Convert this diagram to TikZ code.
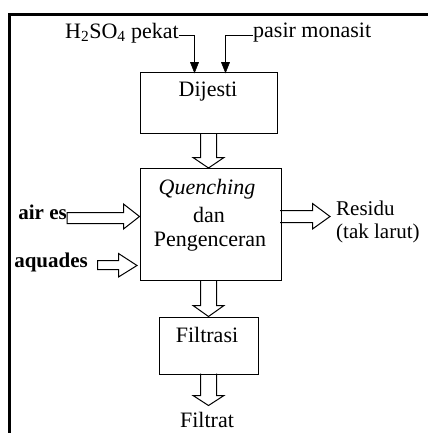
\documentclass[tikz,border=0pt]{standalone}
\usepackage{fontspec}
\setmainfont{Liberation Serif}
\begin{document}
\begin{tikzpicture}[x=1pt,y=-1pt,
  proc/.style={draw,line width=1pt,inner sep=0pt,anchor=north west},
  lbl/.style={inner sep=0pt,font=\fontsize{22}{26}\selectfont},
  slbl/.style={inner sep=0pt,font=\fontsize{21}{25}\selectfont},
  blbl/.style={inner sep=0pt,font=\fontsize{21}{25}\selectfont\bfseries},
  hollow/.style={draw=black,line width=1pt,line join=miter},
  feed/.style={draw=black,line width=1pt},
  headfill/.style={fill=black,draw=black,line width=0.6pt,line join=miter}]
\useasboundingbox (0,0) rectangle (428,433);
% frame
\draw[line width=3pt] (9.5,433) -- (9.5,14.5) -- (428,14.5);
% boxes
\node[proc,minimum width=137pt,minimum height=60pt] (dij) at (139.5,72.5) {};
\node[lbl] (dijt) at (208,92) {Dijesti};
\node[proc,minimum width=141pt,minimum height=112pt] (que) at (139.5,167.5) {};
\node[lbl] (q1) at (207,189) {\itshape Quenching};
\node[lbl] (q2) at (209,215) {dan};
\node[lbl] (q3) at (210,242) {Pengenceran};
\node[proc,minimum width=99pt,minimum height=57pt] (fil) at (158.5,316.5) {};
\node[lbl] (filt) at (207,335) {Filtrasi};
% labels
\node[lbl,anchor=east] (h2) at (179,33) {H\textsubscript{2}SO\textsubscript{4} pekat};
\node[lbl,anchor=west] (pm) at (253,33) {pasir monasit};
\node[blbl,anchor=east] (air) at (67,212) {air es};
\node[blbl,anchor=east] (aq) at (88,262) {aquades};
\node[slbl,anchor=west] (res) at (336,208) {Residu};
\node[slbl,anchor=west] (tak) at (336,233) {(tak larut)};
\node[lbl] (ftr) at (207,420) {Filtrat};
% feed lines with filled tips
\coordinate (d1) at (194.5,72.5);
\coordinate (d1l) at (190.5,62.5);
\coordinate (d1r) at (198.5,62.5);
\coordinate (d1b) at (194.5,62.5);
\coordinate (d2) at (225.5,72.5);
\coordinate (d2l) at (221.5,62.5);
\coordinate (d2r) at (229.5,62.5);
\coordinate (d2b) at (225.5,62.5);
\coordinate (h2e) at (179,35.5);
\coordinate (pmw) at (253,35.5);
\draw[feed] (h2e) -- (d1 |- h2e) -- (d1b);
\filldraw[headfill] (d1l) -- (d1r) -- (d1) -- cycle;
\draw[feed] (pmw) -- (d2 |- pmw) -- (d2b);
\filldraw[headfill] (d2l) -- (d2r) -- (d2) -- cycle;
% hollow down arrows
\draw[hollow] (200.5,133) -- (200.5,157.5) -- (193,157.5) -- (208.5,168) -- (224,157.5) -- (216.5,157.5) -- (216.5,133);
\draw[hollow] (200.5,280) -- (200.5,305.5) -- (193,305.5) -- (208.5,316.5) -- (224,305.5) -- (216.5,305.5) -- (216.5,280);
\draw[hollow] (200.5,373.5) -- (200.5,395.5) -- (193,395.5) -- (208.5,405.5) -- (224,395.5) -- (216.5,395.5) -- (216.5,373.5);
% hollow right arrows
\draw[hollow] (67,212.5) -- (123.5,212.5) -- (123.5,204) -- (139.5,216.5) -- (123.5,229) -- (123.5,223.5) -- (67,223.5) -- cycle;
\draw[hollow] (97.5,260.5) -- (118.5,260.5) -- (118.5,253.5) -- (137,265.5) -- (118.5,277) -- (118.5,269.5) -- (97.5,269.5) -- cycle;
\draw[hollow] (280,210.5) -- (312.5,210.5) -- (312.5,203.5) -- (330,216.5) -- (312.5,229) -- (312.5,222.5) -- (280,222.5);
\end{tikzpicture}
\end{document}
